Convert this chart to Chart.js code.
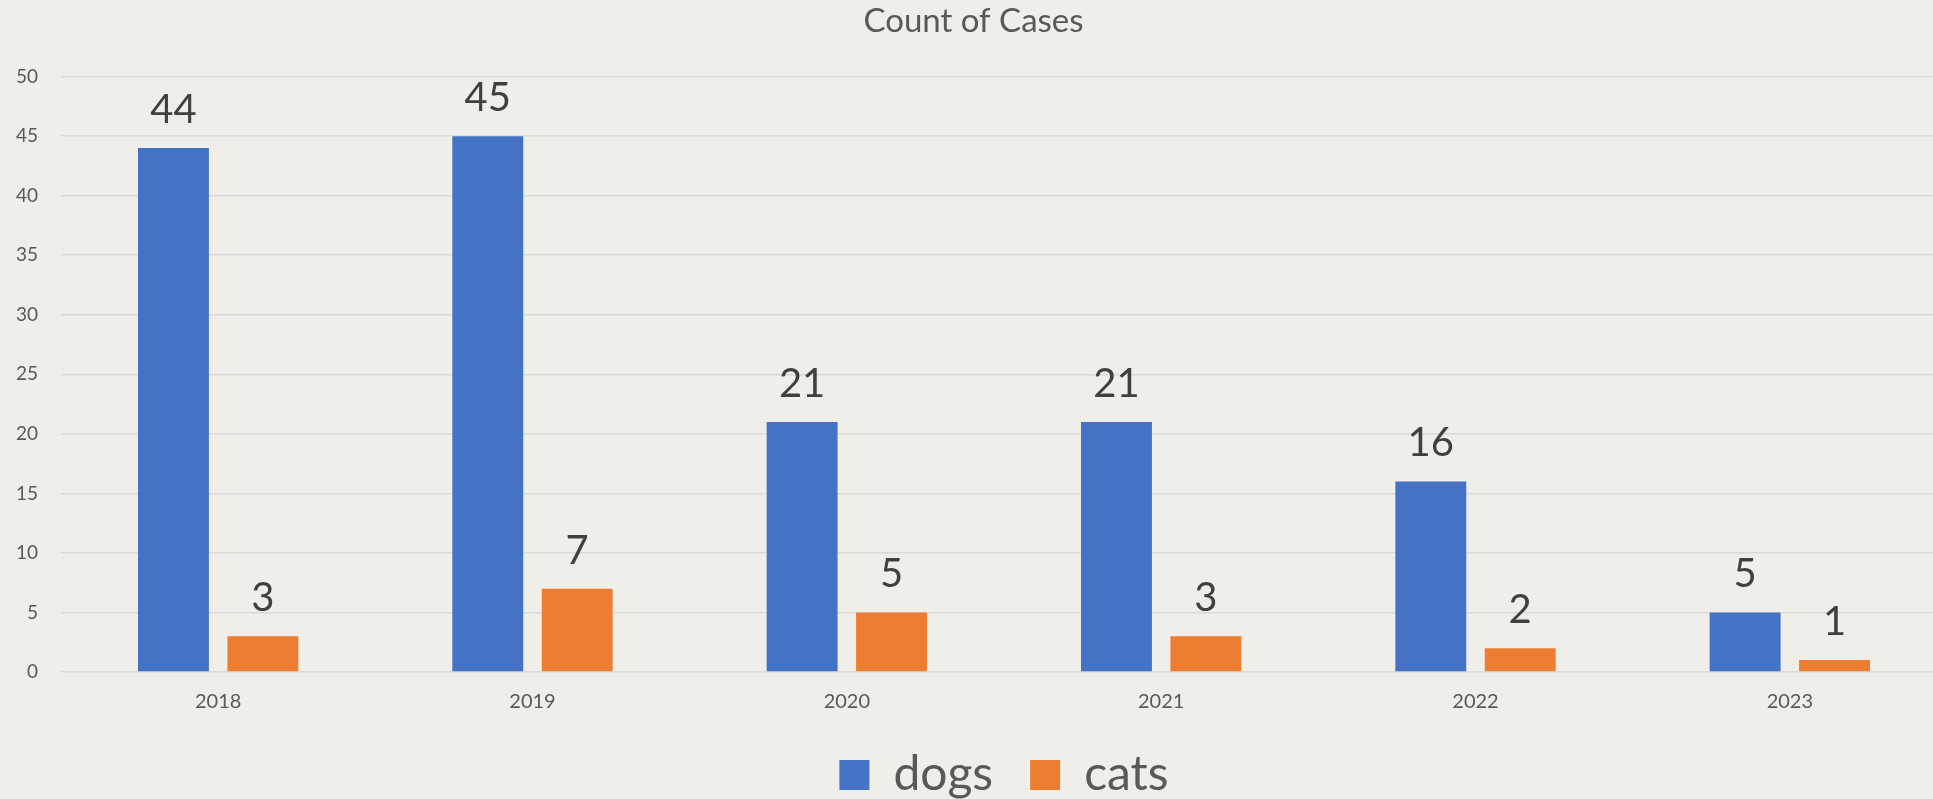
<!DOCTYPE html>
<html>
<head>
<meta charset="utf-8">
<title>Count of Cases</title>
<script src="https://cdn.jsdelivr.net/npm/chart.js@4.4.0/dist/chart.umd.min.js"></script>
<style>
    html, body { margin: 0; padding: 0; background: #efeee9; overflow: hidden; }
    #wrap { width: 1947px; height: 799px; position: relative; }
</style>
</head>
<body>
<div id="wrap"><canvas id="barChart"></canvas></div>
<script>
// Chart data
const years = ['2018', '2019', '2020', '2021', '2022', '2023'];
const dogs = [44, 45, 21, 21, 16, 5];
const cats = [3, 7, 5, 3, 2, 1];
const yTicks = [0, 5, 10, 15, 20, 25, 30, 35, 40, 45, 50];

const FONT = 'Lato, "Open Sans", sans-serif';

// Draws the number above each bar
const valueLabels = {
    id: 'valueLabels',
    afterDatasetsDraw(chart) {
        const ctx = chart.ctx;
        ctx.save();
        ctx.font = '40px ' + FONT;
        ctx.fillStyle = '#404040';
        ctx.textAlign = 'center';
        ctx.textBaseline = 'bottom';
        chart.data.datasets.forEach((ds, i) => {
            const meta = chart.getDatasetMeta(i);
            meta.data.forEach((bar, j) => {
                ctx.fillText(String(ds.data[j]), bar.x, bar.y - 18);
            });
        });
        ctx.restore();
    }
};

const ctx = document.getElementById('barChart').getContext('2d');
new Chart(ctx, {
    type: 'bar',
    data: {
        labels: years,
        datasets: [{
            label: 'dogs',
            data: dogs,
            backgroundColor: '#4472c4',
            categoryPercentage: 0.569,
            barPercentage: 0.793
        }, {
            label: 'cats',
            data: cats,
            backgroundColor: '#ed7d31',
            categoryPercentage: 0.569,
            barPercentage: 0.793
        }]
    },
    options: {
        responsive: true,
        maintainAspectRatio: false,
        animation: false,
        layout: { padding: { left: 0, right: 0, top: 0, bottom: -10 } },
        plugins: {
            title: {
                display: true,
                text: 'Count of Cases',
                color: '#595959',
                font: { family: FONT, size: 33, weight: 'normal' },
                padding: { top: 2, bottom: 35 }
            },
            legend: {
                position: 'bottom',
                fullSize: false,
                labels: {
                    color: '#595959',
                    font: { family: FONT, size: 48 },
                    boxWidth: 30,
                    boxHeight: 30,
                    padding: 37
                }
            },
            tooltip: { enabled: false }
        },
        scales: {
            x: {
                afterFit(axis) {
                    axis.height = 42;
                },
                grid: { display: false, drawTicks: false },
                border: { display: false },
                ticks: {
                    color: '#595959',
                    font: { family: FONT, size: 20 },
                    padding: 18
                }
            },
            y: {
                min: 0,
                max: 50,
                afterBuildTicks(axis) {
                    axis.ticks = yTicks.map(v => ({ value: v }));
                },
                afterFit(axis) {
                    axis.width = 61;
                },
                grid: { color: '#d9d9d9', lineWidth: 1.5, drawTicks: false },
                border: { display: false },
                ticks: {
                    color: '#595959',
                    font: { family: FONT, size: 19 },
                    padding: 23
                }
            }
        }
    },
    plugins: [valueLabels]
});
</script>
</body>
</html>
